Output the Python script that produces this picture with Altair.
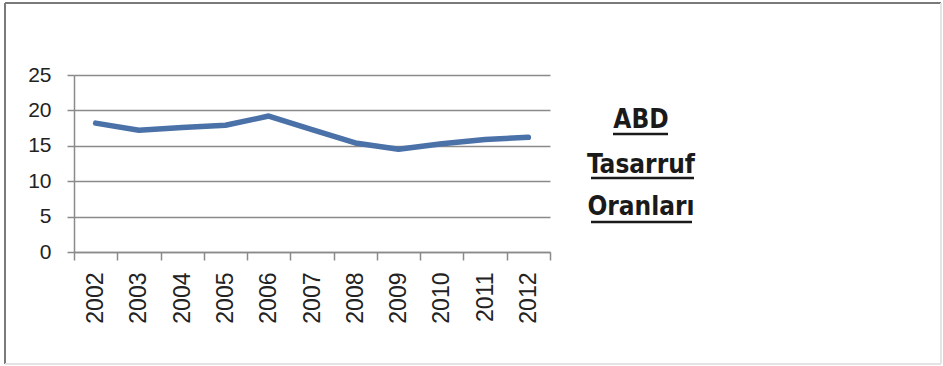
import altair as alt
import pandas as pd

# Savings rate series
years = ["2002", "2003", "2004", "2005", "2006", "2007", "2008", "2009", "2010", "2011", "2012"]
rates = [18.2, 17.2, 17.6, 17.9, 19.2, 17.3, 15.4, 14.5, 15.3, 15.9, 16.2]

# Side caption, one word per line
caption_lines = ["ABD", "Tasarruf", "Oranları"]

df = pd.DataFrame({"year": years, "rate": rates})

GRID = "#8a8a8a"
LINE = "#4a72a8"
CAPTION_FONT = "Liberation Sans Narrow, DejaVu Sans Condensed, sans-serif"

W, H = 476, 177

line = alt.Chart(df).mark_line(color=LINE, strokeWidth=5.5, strokeCap="round", strokeJoin="round").encode(
    x=alt.X(
        "year:O",
        sort=years,
        scale=alt.Scale(type="band", paddingInner=0, paddingOuter=0),
        axis=alt.Axis(
            title=None,
            labelAngle=-90,
            labelFont="Liberation Sans",
            labelFontSize=23,
            labelColor="#222222",
            labelPadding=12,
            tickBand="extent",
            tickSize=8,
            tickWidth=1.5,
            tickColor=GRID,
            domainColor=GRID,
            domainWidth=1.5,
            grid=False,
        ),
    ),
    y=alt.Y(
        "rate:Q",
        scale=alt.Scale(domain=[0, 25], nice=False),
        axis=alt.Axis(
            title=None,
            values=[0, 5, 10, 15, 20, 25],
            labelFont="Liberation Sans",
            labelFontSize=21,
            labelColor="#222222",
            labelPadding=16,
            tickSize=7,
            tickWidth=1.5,
            tickColor=GRID,
            domainColor=GRID,
            domainWidth=1.5,
            grid=True,
            gridColor=GRID,
            gridWidth=1.5,
        ),
    ),
)

# Caption text on the right of the plot
cap_df = pd.DataFrame({"t": caption_lines, "yy": [53, 98, 140]})
caption = alt.Chart(cap_df).mark_text(
    font=CAPTION_FONT, fontSize=26, fontWeight="bold", color="#1a1a1a",
    align="center", baseline="alphabetic",
).encode(
    text="t:N",
    x=alt.value(567),
    y=alt.Y("yy:Q", scale=None),
)

# Underlines beneath each caption word
ul_df = pd.DataFrame({"x1": [539, 517, 517], "x2": [594, 620, 618], "yy": [59, 103, 147]})
underline = alt.Chart(ul_df).mark_rule(color="#1a1a1a", strokeWidth=2.5).encode(
    x=alt.X("x1:Q", scale=None),
    x2="x2:Q",
    y=alt.Y("yy:Q", scale=None),
)

# Outer frame
frame_df = pd.DataFrame({
    "x1": [-69, -69, 867, -69],
    "x2": [867, -69, 867, 867],
    "y1": [-72, -72, -72, 289],
    "y2": [-72, 289, 289, 289],
    "c": ["#7a7a7a", "#7a7a7a", "#e4e4e4", "#e4e4e4"],
})
frame = alt.Chart(frame_df).mark_rule(strokeWidth=2).encode(
    x=alt.X("x1:Q", scale=None),
    x2="x2:Q",
    y=alt.Y("y1:Q", scale=None),
    y2="y2:Q",
    color=alt.Color("c:N", scale=None),
)

chart = alt.layer(line, caption, underline, frame).properties(
    width=W,
    height=H,
    autosize="none",
    padding={"left": 74, "top": 75, "right": 943 - 74 - W, "bottom": 366 - 75 - H},
    background="white",
).configure_view(stroke=None)

chart.save("out.html", embed_options={"renderer": "svg", "actions": False})
